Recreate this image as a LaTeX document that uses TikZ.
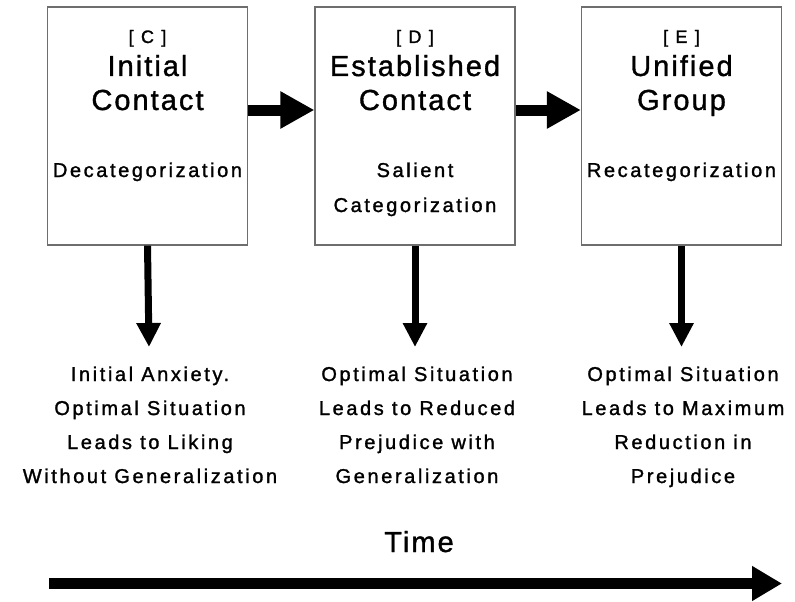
\documentclass[tikz,border=0pt]{standalone}
\usepackage{fontspec}
\setmainfont{Liberation Sans}[LetterSpace=13, FakeBold=1.4]
\newfontfamily\titlefont{Liberation Sans}[LetterSpace=7, FakeBold=1.2]
\usepackage{tikz}
\usetikzlibrary{positioning, arrows.meta}
\definecolor{boxgray}{RGB}{110, 110, 110}

\begin{document}
\begin{tikzpicture}[x=1pt, y=-1pt,
    stage/.style={draw=boxgray, line width=1.2pt, minimum width=200pt, minimum height=238pt, inner sep=0pt},
    tag/.style={anchor=base, font=\fontsize{18}{18}\selectfont},
    title/.style={anchor=base, font=\titlefont\fontsize{29}{29}\selectfont},
    kind/.style={anchor=base, font=\fontsize{20}{20}\selectfont},
    result/.style={anchor=base, align=center, font=\fontsize{20}{34}\selectfont},
    bigarrow/.style={line width=11pt, -{Triangle[length=34pt, width=35pt]}},
    downarrow/.style={line width=7pt, -{Triangle[length=24pt, width=23pt]}},
    timearrow/.style={line width=11pt, -{Triangle[length=30pt, width=33pt]}}]
  \useasboundingbox (0,0) rectangle (795,602);

  % the three stages
  \node[stage] (C) at (147.5,126) {};
  \node[stage] (D) at (415,126)   {};
  \node[stage] (E) at (681.5,126) {};

  \node[tag]   (Ctag)   at (147.5,43)  {[ C ]};
  \node[title] (Ctop)   at (147.5,76)  {Initial};
  \node[title] (Cbot)   at (147.5,110) {Contact};
  \node[kind]  (Ckind)  at (147.5,177) {Decategorization};

  \node[tag]   (Dtag)   at (415,43)  {[ D ]};
  \node[title] (Dtop)   at (415,76)  {Established};
  \node[title] (Dbot)   at (415,110) {Contact};
  \node[kind]  (Dkind)  at (415,177) {Salient};
  \node[kind]  (Dkind2) at (415,212) {Categorization};

  \node[tag]   (Etag)   at (681.5,43)  {[ E ]};
  \node[title] (Etop)   at (681.5,76)  {Unified};
  \node[title] (Ebot)   at (681.5,110) {Group};
  \node[kind]  (Ekind)  at (681.5,177) {Recategorization};

  % outcomes (base = last line)
  \node[result] (Cres) at (150,483) {Initial Anxiety.\\Optimal Situation\\Leads to Liking\\Without Generalization};
  \node[result] (Dres) at (417,483) {Optimal Situation\\Leads to Reduced\\Prejudice with\\Generalization};
  \node[result] (Eres) at (683,483) {Optimal Situation\\Leads to Maximum\\Reduction in\\Prejudice};

  \coordinate (Cend) at (149,347);
  \coordinate (Dend) at (415,347);
  \coordinate (Eend) at (681.5,347);

  \draw[bigarrow] ([yshift=16pt]C.east) -- ([yshift=16pt]D.west);
  \draw[bigarrow] ([yshift=16pt]D.east) -- ([yshift=16pt]E.west);
  \draw[downarrow] (C.south) -- (Cend);
  \draw[downarrow] (D.south) -- (Dend);
  \draw[downarrow] (E.south) -- (Eend);

  % time line
  \node[title] (time) at (419,552) {Time};
  \coordinate (t0) at (49,583.5);
  \coordinate (t1) at (782,583.5);
  \draw[timearrow] (t0) -- (t1);
\end{tikzpicture}
\end{document}
